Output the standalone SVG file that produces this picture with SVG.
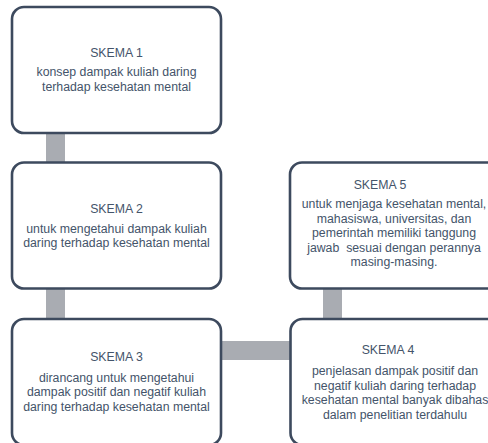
<svg xmlns="http://www.w3.org/2000/svg" width="488" height="443" viewBox="0 0 488 443">
<style>
.box{fill:#ffffff;stroke:#3d4a5e;stroke-width:2.6}
.con{fill:#a9acb2}
text{font-family:"Liberation Sans",Arial,sans-serif;font-size:12.3px;fill:#44546a;text-anchor:middle}
</style>
<rect x="0" y="0" width="488" height="443" fill="#ffffff"/>
<g id="connectors">
<rect class="con" x="46" y="130" width="19" height="36"/>
<rect class="con" x="46" y="286" width="19" height="36"/>
<rect class="con" x="219" y="341" width="74" height="19"/>
<rect class="con" x="323" y="286" width="19" height="36"/>
</g>
<g id="skema1">
<rect class="box" x="12" y="7" width="209" height="126" rx="12"/>
<text x="116.5" y="56.5">SKEMA 1</text>
<text x="116.5" y="76">konsep dampak kuliah daring</text>
<text x="116.5" y="90.5">terhadap kesehatan mental</text>
</g>
<g id="skema2">
<rect class="box" x="12" y="162.5" width="209" height="126" rx="12"/>
<text x="116.5" y="212.7">SKEMA 2</text>
<text x="116.5" y="232.5">untuk mengetahui dampak kuliah</text>
<text x="116.5" y="247">daring terhadap kesehatan mental</text>
</g>
<g id="skema3">
<rect class="box" x="12" y="319" width="209" height="126" rx="12"/>
<text x="116.5" y="361">SKEMA 3</text>
<text x="116.5" y="381.5">dirancang untuk mengetahui</text>
<text x="116.5" y="396">dampak positif dan negatif kuliah</text>
<text x="116.5" y="410.5">daring terhadap kesehatan mental</text>
</g>
<g id="skema4">
<rect class="box" x="290.5" y="319" width="209" height="126" rx="12"/>
<text x="388" y="353.5">SKEMA 4</text>
<text x="395" y="375">penjelasan dampak positif dan</text>
<text x="395" y="389.5">negatif kuliah daring terhadap</text>
<text x="395" y="404">kesehatan mental banyak dibahas</text>
<text x="395" y="418.5">dalam penelitian terdahulu</text>
</g>
<g id="skema5">
<rect class="box" x="290" y="162.5" width="209" height="126" rx="12"/>
<text x="380" y="189.3">SKEMA 5</text>
<text x="394" y="208.3">untuk menjaga kesehatan mental,</text>
<text x="394" y="222.8">mahasiswa, universitas, dan</text>
<text x="394" y="237.3">pemerintah memiliki tanggung</text>
<text x="394" y="251.8" xml:space="preserve">jawab  sesuai dengan perannya</text>
<text x="394" y="266.3">masing-masing.</text>
</g>
</svg>
